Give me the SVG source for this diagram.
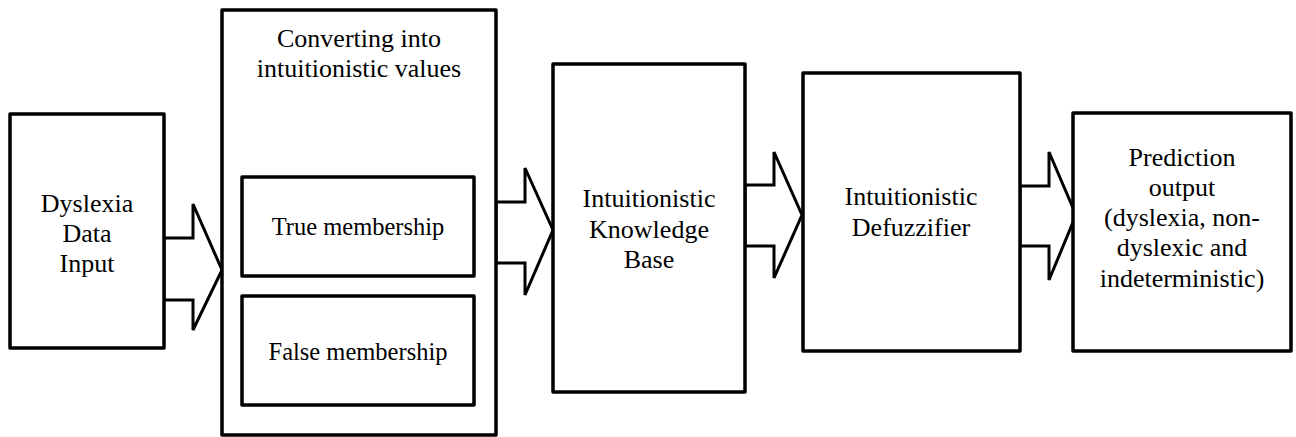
<svg xmlns="http://www.w3.org/2000/svg" width="1296" height="437" viewBox="0 0 1296 437">
<style>
.box{fill:#fff;stroke:#000;stroke-width:3.5;stroke-linejoin:round}
.arr{fill:#fff;stroke:#000;stroke-width:3;stroke-linejoin:miter}
.t{font-size:26px;fill:#000;text-anchor:middle}
.s{font-size:24.5px;fill:#000;text-anchor:middle}
</style>
<rect width="1296" height="437" fill="#fff"/>
<g id="connectors">
<polygon class="arr" points="164,238 193,238 193,204 222,270 193,330 193,300 164,300"/>
<polygon class="arr" points="496,202 525,202 525,168 553,230 525,295 525,263 496,263"/>
<polygon class="arr" points="745,185 774,185 774,152 802,215 774,278 774,246 745,246"/>
<polygon class="arr" points="1020,186 1049,186 1049,152 1076,215 1049,280 1049,246 1020,246"/>
</g>
<g font-family="Liberation Serif, DejaVu Serif, serif">
<g id="input">
<rect class="box" x="10" y="114" width="154" height="234"/>
<text class="t" x="87" y="212">Dyslexia</text>
<text class="t" x="87" y="242">Data</text>
<text class="t" x="87" y="272">Input</text>
</g>
<g id="converting">
<rect class="box" x="222" y="10" width="274" height="425"/>
<text class="t" x="359" y="47">Converting into</text>
<text class="t" x="359" y="77">intuitionistic values</text>
</g>
<g id="true">
<rect class="box" x="242" y="177" width="232" height="99"/>
<text class="s" x="358" y="235">True membership</text>
</g>
<g id="false">
<rect class="box" x="242" y="296" width="232" height="109"/>
<text class="s" x="358" y="360">False membership</text>
</g>
<g id="knowledge">
<rect class="box" x="553" y="64" width="192" height="328"/>
<text class="t" x="649" y="207">Intuitionistic</text>
<text class="t" x="649" y="238">Knowledge</text>
<text class="t" x="649" y="268">Base</text>
</g>
<g id="defuzzifier">
<rect class="box" x="803" y="73" width="217" height="278"/>
<text class="t" x="911" y="205">Intuitionistic</text>
<text class="t" x="911" y="236">Defuzzifier</text>
</g>
<g id="output">
<rect class="box" x="1073" y="113" width="218" height="238"/>
<text class="t" x="1182" y="166">Prediction</text>
<text class="t" x="1182" y="196">output</text>
<text class="t" x="1182" y="226">(dyslexia, non-</text>
<text class="t" x="1182" y="256">dyslexic and</text>
<text class="t" x="1182" y="287">indeterministic)</text>
</g>
</g>
</svg>
